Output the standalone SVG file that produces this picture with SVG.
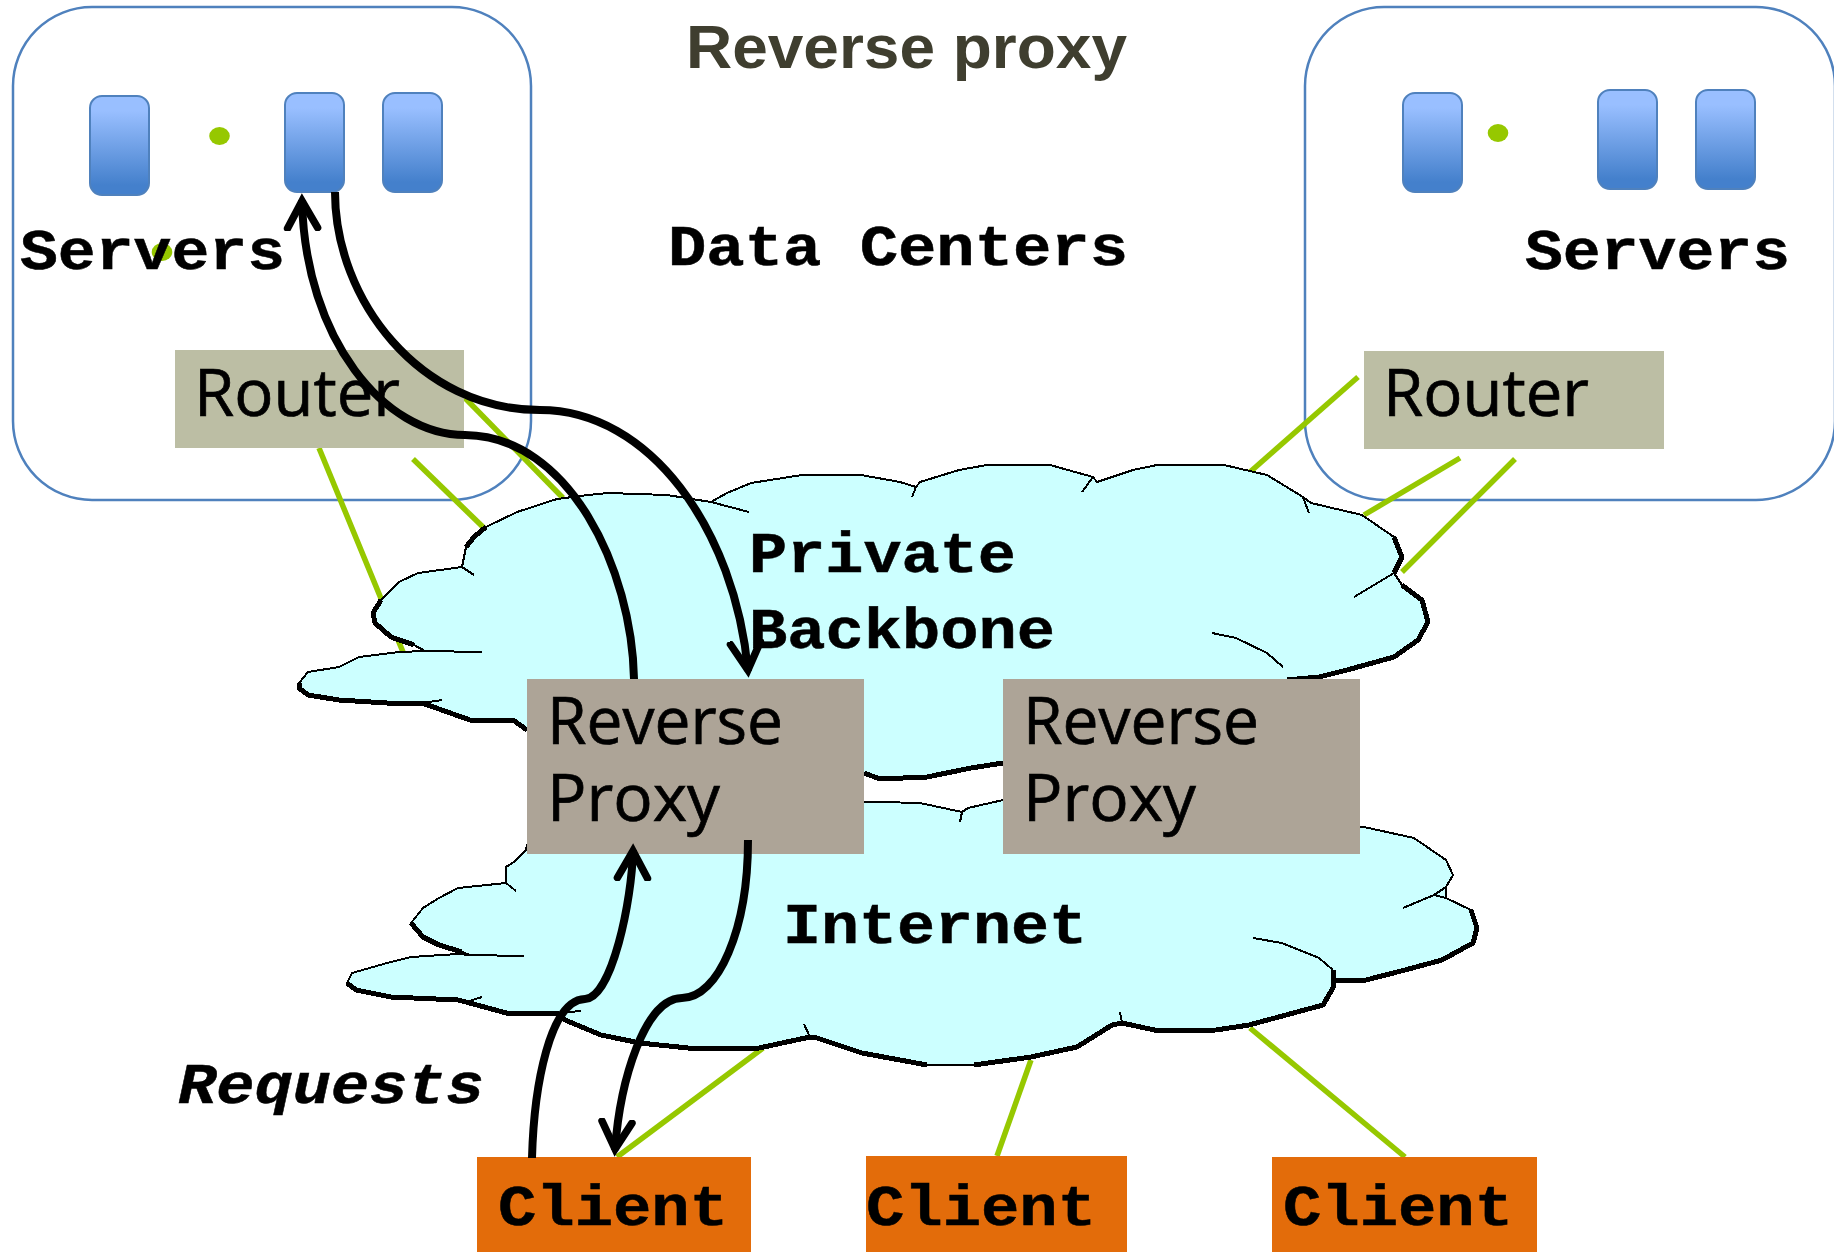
<svg xmlns="http://www.w3.org/2000/svg" width="1834" height="1252" viewBox="0 0 1834 1252">
<defs>
<linearGradient id="srv" x1="0" y1="0" x2="0" y2="1"><stop offset="0.15" stop-color="#99bfff"/><stop offset="0.9" stop-color="#4480cc"/></linearGradient>
<marker id="open" markerUnits="userSpaceOnUse" markerWidth="50" markerHeight="40" refX="31" refY="20" orient="auto"><path d="M3 5 L30 20 L3 35" fill="none" stroke="#000" stroke-width="7.500" stroke-linecap="round" stroke-linejoin="miter"/></marker>
</defs>
<style>
.dc{fill:#fff;stroke:#4f81bd;stroke-width:2.5}
.s{fill:url(#srv);stroke:#4f81bd;stroke-width:2}
.g{stroke:#96c800;stroke-width:5.5;fill:none}
.dot{fill:#96c800}
.cloud{fill:#ccffff;stroke:#000;stroke-width:2;stroke-linejoin:round;shape-rendering:crispEdges}
.tk{fill:none;stroke:#000;stroke-width:5;stroke-linejoin:round;shape-rendering:crispEdges}
.tn{fill:none;stroke:#000;stroke-width:2;shape-rendering:crispEdges}
.m{font-family:"Liberation Mono",monospace;font-weight:bold;font-size:57px;fill:#000;stroke:#000;stroke-width:.5}
.o{font-family:"Open Sans","Noto Sans",sans-serif;font-size:65px;fill:#000;stroke:#000;stroke-width:.7}
.flow{fill:none;stroke:#000;stroke-width:8}
</style>
<rect width="1834" height="1252" fill="#fff"/>
<g id="dc-left"><rect class="dc" x="13" y="7" width="518" height="493" rx="79"/></g>
<g id="dc-right"><rect class="dc" x="1305" y="7" width="530" height="493" rx="79"/></g>
<g id="links">
<path class="g" d="M319 448L403 652"/><path class="g" d="M413 459L484 528"/><path class="g" d="M465 398L563 498"/>
<path class="g" d="M1358 377L1250 472"/><path class="g" d="M1460 458L1364 515"/><path class="g" d="M1515 459L1402 572"/>
<path class="g" d="M763 1048L617 1157"/><path class="g" d="M1031 1060L997 1156"/><path class="g" d="M1250 1028L1405 1157"/>
</g>
<g id="cloud-backbone">
<path class="cloud" d="M299 683L308 672L339 667L359 657L399 652L425 651L414 645L391 637L375 623L373 613L381 600L399 582L418 573L462 567L466 547L474 537L486 527L517 512L557 499L588 495L608 493L667 495L711 502L727 493L751 483L802 475L861 475L900 482L916 487L920 482L959 470L987 465L1050 465L1093 477L1097 482L1133 470L1157 465L1224 465L1267 475L1303 497L1311 503L1362 515L1394 537L1402 557L1394 573L1402 585L1422 600L1428 622L1418 640L1394 657L1347 670L1319 677L1287 680L1100 740L1003 763L971 768L927 777L880 779L864 773L700 760L527 730L513 720L470 720L422 703L387 703L339 700L308 695L299 688Z"/>
<path class="tk" d="M299 683L299 688L308 695L339 700L387 703L422 703L470 720L513 720L527 730"/>
<path class="tk" d="M381 600L373 613L375 623L391 637L414 645"/>
<path class="tk" d="M466 547L474 537L486 527"/>
<path class="tk" d="M1394 537L1402 557L1394 573"/>
<path class="tk" d="M1402 585L1422 600L1428 622L1418 640L1394 657L1347 670L1319 677L1287 680"/>
<path class="tk" d="M1003 763L971 768L927 777L880 779L864 773"/>
<path class="tn" d="M425 651L482 652M442 700L422 703M462 567L474 575M711 502L749 512M916 487L912 497M1093 477L1082 492M1303 497L1309 513M1394 573L1354 597M1283 667L1267 653L1236 638L1212 633"/>
</g>
<g id="cloud-internet">
<path class="cloud" d="M526 850L514 862L506 867L506 883L458 888L439 898L423 908L411 923L423 937L439 945L462 952L470 955L458 954L411 957L387 963L352 973L347 983L356 990L391 997L458 1000L466 1002L510 1014L557 1013L565 1020L601 1035L640 1043L688 1048L759 1048L810 1037L814 1037L862 1053L927 1065L974 1065L1031 1057L1077 1047L1112 1025L1122 1023L1159 1031L1216 1030L1249 1025L1323 1005L1333 988L1335 980L1366 980L1405 970L1442 960L1473 943L1477 928L1471 910L1446 898L1446 887L1453 875L1446 860L1414 838L1364 827L1200 815L1003 800L968 808L962 812L920 803L880 802L864 802L700 800L527 845Z"/>
<path class="tk" d="M411 923L423 937L439 945L462 952"/>
<path class="tk" d="M347 983L356 990L391 997L458 1000L466 1002L510 1014L557 1013L565 1020L601 1035L640 1043L688 1048L759 1048L810 1037L814 1037L862 1053L927 1065M974 1065L1031 1057L1077 1047L1112 1025L1122 1023L1159 1031L1216 1030L1249 1025L1323 1005L1333 988L1333 970M1335 980L1366 980L1405 970L1442 960L1473 943L1477 928L1471 910"/>
<path class="tn" d="M470 955L524 956M466 1002L482 997M506 883L516 891M557 1013L581 1011M810 1037L804 1024M962 812L960 822M1122 1023L1120 1012M1333 970L1319 958L1282 943L1253 938M1446 898L1434 895L1403 908M1446 887L1434 895"/>
</g>
<g id="server-l1"><rect class="s" x="90" y="96" width="59" height="99" rx="12"/></g>
<g id="server-l2"><rect class="s" x="285" y="93" width="59" height="99" rx="12"/></g>
<g id="server-l3"><rect class="s" x="383" y="93" width="59" height="99" rx="12"/></g>
<g id="server-r1"><rect class="s" x="1403" y="93" width="59" height="99" rx="12"/></g>
<g id="server-r2"><rect class="s" x="1598" y="90" width="59" height="99" rx="12"/></g>
<g id="server-r3"><rect class="s" x="1696" y="90" width="59" height="99" rx="12"/></g>
<ellipse class="dot" cx="219.500" cy="136" rx="10.300" ry="9"/><ellipse class="dot" cx="1498" cy="133" rx="10.300" ry="9"/><ellipse class="dot" cx="162" cy="252" rx="10.300" ry="9"/>
<g id="router-l"><rect x="175" y="350" width="289" height="98" fill="#bcbea4"/><text class="o" x="194" y="416" textLength="206" lengthAdjust="spacingAndGlyphs">Router</text></g>
<g id="router-r"><rect x="1364" y="351" width="300" height="98" fill="#bcbea4"/><text class="o" x="1383" y="416" textLength="206" lengthAdjust="spacingAndGlyphs">Router</text></g>
<g id="proxy-l"><rect x="527" y="679" width="337" height="175" fill="#ada497"/><text class="o" x="547" y="744" textLength="236" lengthAdjust="spacingAndGlyphs">Reverse</text><text class="o" x="547" y="821" textLength="173" lengthAdjust="spacingAndGlyphs">Proxy</text></g>
<g id="proxy-r"><rect x="1003" y="679" width="357" height="175" fill="#ada497"/><text class="o" x="1023" y="744" textLength="236" lengthAdjust="spacingAndGlyphs">Reverse</text><text class="o" x="1023" y="821" textLength="173" lengthAdjust="spacingAndGlyphs">Proxy</text></g>
<g id="client-1"><rect x="477" y="1157" width="274" height="95" fill="#e36c0a"/><text class="m" x="498" y="1225" textLength="230" lengthAdjust="spacingAndGlyphs">Client</text></g>
<g id="client-2"><rect x="866" y="1156" width="261" height="96" fill="#e36c0a"/><text class="m" x="866" y="1225" textLength="230" lengthAdjust="spacingAndGlyphs">Client</text></g>
<g id="client-3"><rect x="1272" y="1157" width="265" height="95" fill="#e36c0a"/><text class="m" x="1283" y="1225" textLength="230" lengthAdjust="spacingAndGlyphs">Client</text></g>
<text x="686" y="68" font-family="'Liberation Sans',sans-serif" font-weight="bold" font-size="62" fill="#3f3e2f" textLength="441" lengthAdjust="spacingAndGlyphs">Reverse proxy</text>
<text class="m" x="20" y="269" textLength="265" lengthAdjust="spacingAndGlyphs">Servers</text>
<text class="m" x="1525" y="269" textLength="265" lengthAdjust="spacingAndGlyphs">Servers</text>
<text class="m" x="668" y="265" textLength="460" lengthAdjust="spacingAndGlyphs">Data Centers</text>
<text class="m" x="749" y="572" textLength="267" lengthAdjust="spacingAndGlyphs">Private</text>
<text class="m" x="749" y="648" textLength="306" lengthAdjust="spacingAndGlyphs">Backbone</text>
<text class="m" x="783" y="943" textLength="304" lengthAdjust="spacingAndGlyphs">Internet</text>
<text class="m" x="178" y="1103" font-style="italic" textLength="306" lengthAdjust="spacingAndGlyphs">Requests</text>
<g id="connectors">
<path class="flow" marker-end="url(#open)" d="M634 679C632 570 570 436 465 435C385 435 305 340 302 200"/>
<path class="flow" marker-end="url(#open)" d="M335 192C335 300 420 410 540 410C650 410 735 530 748 671"/>
<path class="flow" marker-end="url(#open)" d="M532 1158C534 1085 550 1000 585 999C612 998 632 900 633 850"/>
<path class="flow" marker-end="url(#open)" d="M748 840C748 930 718 998 682 998C645 998 620 1080 615 1150"/>
</g>
</svg>
